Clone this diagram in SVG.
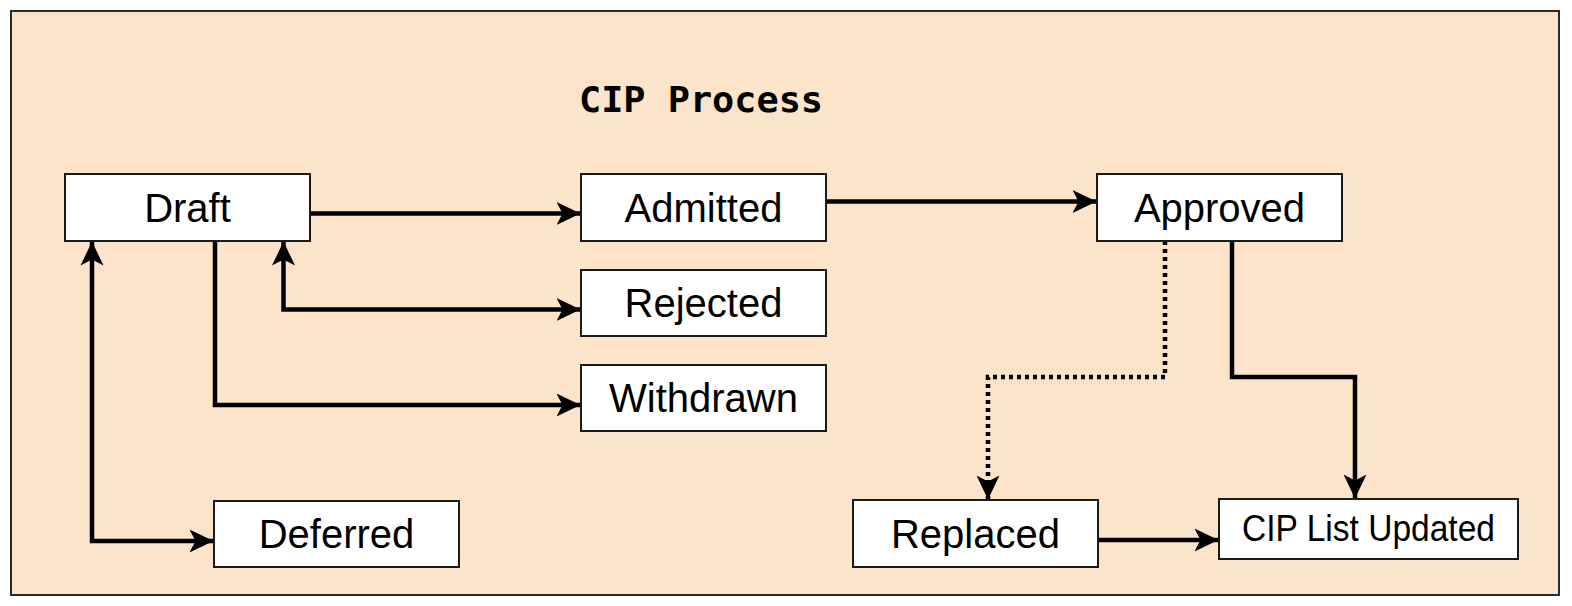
<svg xmlns="http://www.w3.org/2000/svg" width="1572" height="606" viewBox="0 0 1572 606">
<style>
.bg{fill:#FCE4CA;stroke:#2b2b2b;stroke-width:2}
.box{fill:#ffffff;stroke:#1a1a1a;stroke-width:2}
.lbl{font-family:"Liberation Sans",Arial,sans-serif;font-size:40px;fill:#000;text-anchor:middle}
.title{font-family:"DejaVu Sans Mono","Liberation Mono",monospace;font-weight:bold;font-size:35px;fill:#000}
.conn{fill:none;stroke:#000;stroke-width:4.5;stroke-linejoin:miter}
.dot{stroke-dasharray:4 4}
</style>
<defs>
<marker id="arr" markerUnits="userSpaceOnUse" markerWidth="24" markerHeight="24" refX="23.5" refY="12" orient="auto-start-reverse" viewBox="0 0 24 24">
<path d="M0,0.5 L24,12 L0,23.5 L6,12 Z" fill="#000"/>
</marker>
</defs>
<rect class="bg" x="11" y="11" width="1548" height="584"/>
<text class="title" x="579" y="112" textLength="244" lengthAdjust="spacingAndGlyphs">CIP Process</text>
<g id="connectors">
<path class="conn" d="M310,213.5 L580,213.5" marker-end="url(#arr)"/>
<path class="conn" d="M826,201.5 L1096,201.5" marker-end="url(#arr)"/>
<path class="conn" d="M283.5,242 L283.5,309.5 L580,309.5" marker-start="url(#arr)" marker-end="url(#arr)"/>
<path class="conn" d="M215,241 L215,405 L580,405" marker-end="url(#arr)"/>
<path class="conn" d="M92,242 L92,541 L213,541" marker-start="url(#arr)" marker-end="url(#arr)"/>
<path class="conn dot" d="M1165,241 L1165,377 L988,377 L988,499" marker-end="url(#arr)"/>
<path class="conn" d="M1232,241 L1232,377 L1355,377 L1355,498" marker-end="url(#arr)"/>
<path class="conn" d="M1097,540 L1218,540" marker-end="url(#arr)"/>
</g>
<g id="draft"><rect class="box" x="65" y="174" width="245" height="67"/><text class="lbl" x="187.5" y="222">Draft</text></g>
<g id="admitted"><rect class="box" x="581" y="174" width="245" height="67"/><text class="lbl" x="703.5" y="222">Admitted</text></g>
<g id="approved"><rect class="box" x="1097" y="174" width="245" height="67"/><text class="lbl" x="1219.5" y="222">Approved</text></g>
<g id="rejected"><rect class="box" x="581" y="270" width="245" height="66"/><text class="lbl" x="703.5" y="317">Rejected</text></g>
<g id="withdrawn"><rect class="box" x="581" y="365" width="245" height="66"/><text class="lbl" x="703.5" y="412">Withdrawn</text></g>
<g id="deferred"><rect class="box" x="214" y="501" width="245" height="66"/><text class="lbl" x="336.5" y="548">Deferred</text></g>
<g id="replaced"><rect class="box" x="853" y="500" width="245" height="67"/><text class="lbl" x="975.5" y="548">Replaced</text></g>
<g id="cip-list-updated"><rect class="box" x="1219" y="499" width="299" height="60"/><text class="lbl" x="1368.5" y="541" style="font-size:37px" textLength="253" lengthAdjust="spacingAndGlyphs">CIP List Updated</text></g>
</svg>
